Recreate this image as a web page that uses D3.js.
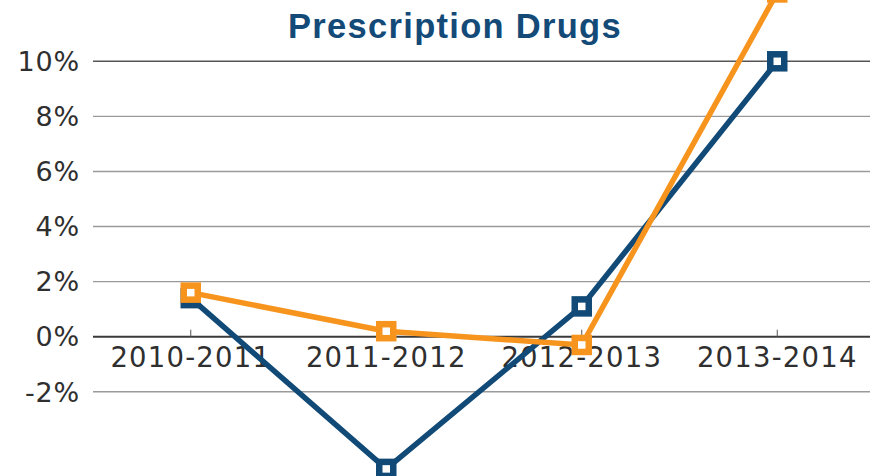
<!DOCTYPE html>
<html>
<head>
<meta charset="utf-8">
<script src="https://cdn.jsdelivr.net/npm/d3@7"></script>
<style>
html,body{margin:0;padding:0;background:#fff;}
svg{display:block;}
</style>
</head>
<body>
<svg id="chart" width="870" height="476"></svg>
<script>
const title = "Prescription Drugs";
const categories = ["2010-2011", "2011-2012", "2012-2013", "2013-2014"];
const seriesBlue = [1.4, -4.8, 1.1, 10.0];
const seriesOrange = [1.6, 0.2, -0.3, 12.5];
const yTicks = [-2, 0, 2, 4, 6, 8, 10];

const svg = d3.select("#chart");
const W = 870, H = 476;
const blue = "#114a76", orange = "#f7941d";

const x = d3.scaleBand().domain(categories).range([93, 875]).padding(0);
const y = d3.scaleLinear().domain([-5, 10]).range([474.4, 61.3]);
const cx = d => x(d) + x.bandwidth() / 2;

// gridlines
svg.append("g").selectAll("line").data(yTicks.filter(t => t !== 0)).join("line")
  .attr("x1", 93).attr("x2", W)
  .attr("y1", d => y(d)).attr("y2", d => y(d))
  .attr("stroke", d => d === 10 ? "#555" : "#9a9a9a")
  .attr("stroke-width", 1.4);

// y labels
svg.append("g").selectAll("text").data(yTicks).join("text")
  .attr("x", 80).attr("y", d => y(d)).attr("dy", "0.36em")
  .attr("text-anchor", "end")
  .attr("font-family", "DejaVu Sans, sans-serif")
  .attr("font-size", 27).attr("letter-spacing", 0.8).attr("fill", "#2f2f2f")
  .text(d => d + "%");

// zero axis
svg.append("line").attr("x1", 93).attr("x2", W)
  .attr("y1", y(0)).attr("y2", y(0))
  .attr("stroke", "#3a3a3a").attr("stroke-width", 2);
svg.append("g").selectAll("line").data(categories).join("line")
  .attr("x1", d => cx(d)).attr("x2", d => cx(d))
  .attr("y1", y(0)).attr("y2", y(0) - 7)
  .attr("stroke", "#555").attr("stroke-width", 1);

// x labels
svg.append("g").selectAll("text").data(categories).join("text")
  .attr("x", d => cx(d)).attr("y", 367)
  .attr("text-anchor", "middle")
  .attr("font-family", "DejaVu Sans, sans-serif")
  .attr("font-size", 27.5).attr("letter-spacing", 1.2).attr("fill", "#2f2f2f")
  .text(d => d);

// series
function drawSeries(vals, color) {
  const data = categories.map((c, i) => ({c, v: vals[i]}));
  svg.append("path").datum(data)
    .attr("fill", "none").attr("stroke", color).attr("stroke-width", 5.5)
    .attr("stroke-linejoin", "miter")
    .attr("d", d3.line().x(d => cx(d.c)).y(d => y(d.v)));
  const s = 14;
  svg.append("g").selectAll("rect").data(data).join("rect")
    .attr("x", d => cx(d.c) - s / 2).attr("y", d => y(d.v) - s / 2)
    .attr("width", s).attr("height", s)
    .attr("fill", "#fff").attr("stroke", color).attr("stroke-width", 6.5);
}
drawSeries(seriesBlue, blue);
drawSeries(seriesOrange, orange);

// title
svg.append("text").attr("x", 455).attr("y", 38)
  .attr("text-anchor", "middle")
  .attr("font-family", "Liberation Sans, Arial, sans-serif")
  .attr("font-weight", "bold")
  .attr("font-size", 34.5).attr("letter-spacing", 1.3).attr("fill", "#134a78")
  .text(title);
</script>
</body>
</html>
